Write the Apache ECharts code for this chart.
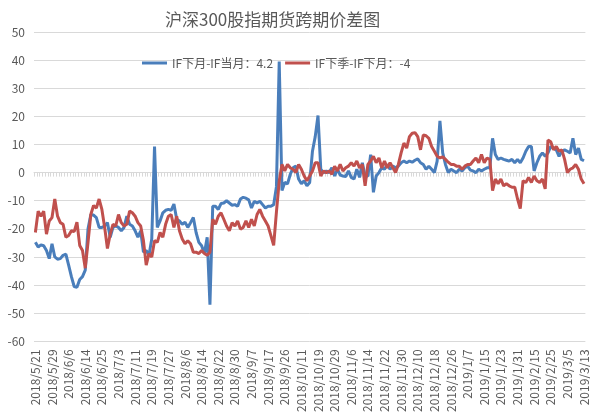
<!DOCTYPE html>
<html>
<head>
<meta charset="utf-8">
<script src="https://cdn.jsdelivr.net/npm/echarts@6/dist/echarts.min.js"></script>
<style>html,body{margin:0;padding:0;background:#fff;}#c{width:590px;height:415px;}</style>
</head>
<body>
<div id="c"></div>
<script>
var titleText = '沪深300股指期货跨期价差图';
var seriesNames = ['IF下月-IF当月：4.2', 'IF下季-IF下月：-4'];
var dates = [
'2018/5/21','2018/5/22','2018/5/23','2018/5/24','2018/5/25','2018/5/28','2018/5/29','2018/5/30','2018/5/31',
'2018/6/1','2018/6/4','2018/6/5','2018/6/6','2018/6/7','2018/6/8','2018/6/11','2018/6/12','2018/6/13','2018/6/14','2018/6/15','2018/6/19','2018/6/20','2018/6/21','2018/6/22','2018/6/25','2018/6/26','2018/6/27','2018/6/28','2018/6/29',
'2018/7/2','2018/7/3','2018/7/4','2018/7/5','2018/7/6','2018/7/9','2018/7/10','2018/7/11','2018/7/12','2018/7/13','2018/7/16','2018/7/17','2018/7/18','2018/7/19','2018/7/20','2018/7/23','2018/7/24','2018/7/25','2018/7/26','2018/7/27','2018/7/30','2018/7/31',
'2018/8/1','2018/8/2','2018/8/3','2018/8/6','2018/8/7','2018/8/8','2018/8/9','2018/8/10','2018/8/13','2018/8/14','2018/8/15','2018/8/16','2018/8/17','2018/8/20','2018/8/21','2018/8/22','2018/8/23','2018/8/24','2018/8/27','2018/8/28','2018/8/29','2018/8/30','2018/8/31',
'2018/9/3','2018/9/4','2018/9/5','2018/9/6','2018/9/7','2018/9/10','2018/9/11','2018/9/12','2018/9/13','2018/9/14','2018/9/17','2018/9/18','2018/9/19','2018/9/20','2018/9/21','2018/9/25','2018/9/26','2018/9/27','2018/9/28',
'2018/10/8','2018/10/9','2018/10/10','2018/10/11','2018/10/12','2018/10/15','2018/10/16','2018/10/17','2018/10/18','2018/10/19','2018/10/22','2018/10/23','2018/10/24','2018/10/25','2018/10/26','2018/10/29','2018/10/30','2018/10/31',
'2018/11/1','2018/11/2','2018/11/5','2018/11/6','2018/11/7','2018/11/8','2018/11/9','2018/11/12','2018/11/13','2018/11/14','2018/11/15','2018/11/16','2018/11/19','2018/11/20','2018/11/21','2018/11/22','2018/11/23','2018/11/26','2018/11/27','2018/11/28','2018/11/29','2018/11/30',
'2018/12/3','2018/12/4','2018/12/5','2018/12/6','2018/12/7','2018/12/10','2018/12/11','2018/12/12','2018/12/13','2018/12/14','2018/12/17','2018/12/18','2018/12/19','2018/12/20','2018/12/21','2018/12/24','2018/12/25','2018/12/26','2018/12/27','2018/12/28',
'2019/1/2','2019/1/3','2019/1/4','2019/1/7','2019/1/8','2019/1/9','2019/1/10','2019/1/11','2019/1/14','2019/1/15','2019/1/16','2019/1/17','2019/1/18','2019/1/21','2019/1/22','2019/1/23','2019/1/24','2019/1/25','2019/1/28','2019/1/29','2019/1/30','2019/1/31',
'2019/2/1','2019/2/11','2019/2/12','2019/2/13','2019/2/14','2019/2/15','2019/2/18','2019/2/19','2019/2/20','2019/2/21','2019/2/22','2019/2/25','2019/2/26','2019/2/27','2019/2/28',
'2019/3/1','2019/3/4','2019/3/5','2019/3/6','2019/3/7','2019/3/8','2019/3/11','2019/3/12','2019/3/13'
];
var nextMinusCurrent = [
-24.8,-26.5,-25.7,-26,-27.7,-30.6,-25.3,-30,-30.8,-30.6,
-29.4,-29,-32.9,-37,-40.5,-40.8,-38,-37,-34.7,-20,
-15,-15.1,-16,-19.5,-19.5,-19,-17.8,-23,-19.5,-19,
-19.5,-20.7,-19.5,-15.5,-18.4,-19,-20.7,-23,-20.7,-28.3,
-27.7,-29.4,-23.6,9.3,-19.5,-17.2,-14.3,-13.4,-13.1,-13.4,
-11.2,-16.6,-17.2,-18.4,-17.6,-19.5,-17.8,-16,-21.3,-24.8,
-26,-28.8,-23,-47,-12,-12,-13.1,-11,-10.8,-10,
-10.8,-11.6,-11.4,-12,-9.4,-8.8,-9.1,-9.7,-12.6,-10.2,
-10.8,-10.2,-11.4,-12.6,-12,-12,-11.4,-5,39.5,-6.4,
-3.5,-4,-0.6,1.7,2.3,-2.3,-4,-2.9,-4.7,-3.5,
7.6,12.8,20.3,1.2,0,0.6,0,1.7,-1.2,1.2,
-0.9,-1.2,-1.4,0.6,-1.7,-2.3,1.2,-1.7,3.5,-1.2,
-1.2,6.4,-7,-1.2,0,1.7,1.2,2.9,1.2,2.3,
1.7,2.3,3.5,4.1,3.5,4.1,3.7,4.4,4.9,3.5,
2.9,1.2,2.3,1.2,0,4.1,18.4,7,2.9,0,
1.2,0.6,0,1.2,0.6,1.7,2.3,0.9,0.6,0,
1.2,0.6,1.2,1.7,1.7,12.2,6.4,4.7,5.2,4.7,
4.4,4.1,4.7,3.5,4.7,3.5,5.2,7.6,9.3,9.3,
0.6,3.5,5.8,7,5.8,7,9.3,8.7,8.1,5.8,
7.6,8.1,7.6,7,12.2,6.4,8.7,4.7,4.2
];
var quarterMinusNext = [
-21.3,-13.7,-15.5,-13.7,-21.9,-17.2,-16,-9.4,-15.5,-17.8,
-18.4,-23,-22.4,-20.7,-21,-17.6,-25.9,-27.7,-34,-24.8,
-14.9,-11.7,-12.6,-9.4,-13.1,-19.5,-27,-21.9,-18.4,-19,
-14.9,-17.8,-19,-18.4,-13.7,-14.3,-15.5,-17.8,-19,-24.2,
-32.9,-28.8,-30,-24.2,-24.8,-21.3,-23,-18.4,-15.5,-14.9,
-19.5,-15.5,-20.7,-23.6,-25.3,-24.2,-25.3,-28.3,-28.3,-28.8,
-27.7,-28.8,-29.4,-28.3,-16.6,-18.4,-15.5,-14.3,-16.6,-19,
-20.7,-17.8,-19,-17.2,-20.1,-19.5,-17.2,-19.5,-16.6,-19,
-14.9,-13.1,-15.5,-17.2,-19,-22.4,-25.9,-14,-3,2.9,
0.6,2.9,1.7,1.2,0,2.9,1.2,-1.2,-2.9,-1.2,
0.6,3.5,3.5,-1.2,0.6,0,0.6,-0.6,2.3,0.6,
2.9,0.6,1.7,2.3,3.5,2.3,4.1,1.7,2.9,-4.7,
2.9,4.1,5.8,3.5,5.2,1.7,4.1,1.7,3.5,1.7,
0,2.9,7,10.5,8.7,12.8,14,14.2,12.8,8.1,
13.4,13.1,12.2,9.3,7.6,5.8,5.2,5.6,4.7,3.7,
2.9,2.9,2.3,2.3,1.2,2.3,2.9,2.9,4.1,5.2,
3.5,6.4,3.5,5.2,4.7,-6.4,-2.3,-4,-2.3,-4.7,
-4,-4.7,-5.2,-5.2,-9.3,-12.8,-2.9,-3.5,-1.7,-3.5,
-1.2,-2.9,-3.5,-2.3,-5.8,11.6,11,8.1,9.3,7.6,
8.1,4.7,0,1.2,1.7,2.9,1.2,-2.3,-4
];
var yMin = -60, yMax = 50, yStep = 10;

var font = "'Noto Sans CJK SC', 'Noto Sans', sans-serif";
var chart = echarts.init(document.getElementById('c'), null, {renderer: 'canvas'});
chart.setOption({
  animation: false,
  backgroundColor: '#ffffff',
  textStyle: {fontFamily: font},
  title: {
    text: titleText, left: 160, top: 6,
    textStyle: {fontSize: 17, fontWeight: 'normal', color: '#595959', fontFamily: font}
  },
  legend: {
    left: 137, top: 52, itemWidth: 25, itemHeight: 3, itemGap: 12, icon: 'rect',
    textStyle: {fontSize: 12, color: '#595959', fontFamily: font},
    data: seriesNames
  },
  grid: {left: 34, right: 4, top: 32, bottom: 67, containLabel: false},
  xAxis: [
    {
      type: 'category', data: dates, position: 'bottom', boundaryGap: true,
      axisLine: {show: false, onZero: false},
      axisTick: {show: false},
      axisLabel: {interval: 5, rotate: 90, fontSize: 12, color: '#595959', margin: 8, fontFamily: font},
      splitLine: {show: false}
    },
    {
      type: 'category', data: dates, position: 'top', boundaryGap: true,
      axisLine: {show: true, onZero: true, lineStyle: {color: '#d9d9d9', width: 1}},
      axisTick: {show: true, interval: 0, inside: true, length: 4, lineStyle: {color: '#d9d9d9'}},
      axisLabel: {show: false},
      splitLine: {show: false}
    }
  ],
  yAxis: {
    type: 'value', min: yMin, max: yMax, interval: yStep,
    axisLine: {show: false}, axisTick: {show: false},
    axisLabel: {fontSize: 12, color: '#595959', margin: 9, fontFamily: font},
    splitLine: {lineStyle: {color: '#d9d9d9', width: 1}}
  },
  series: [
    {
      name: seriesNames[0], type: 'line', xAxisIndex: 0, data: nextMinusCurrent,
      symbol: 'none', lineStyle: {width: 3, color: '#4A7EBB'}, itemStyle: {color: '#4A7EBB'}
    },
    {
      name: seriesNames[1], type: 'line', xAxisIndex: 0, data: quarterMinusNext,
      symbol: 'none', lineStyle: {width: 3, color: '#C0504D'}, itemStyle: {color: '#C0504D'}
    }
  ]
});
</script>
</body>
</html>
